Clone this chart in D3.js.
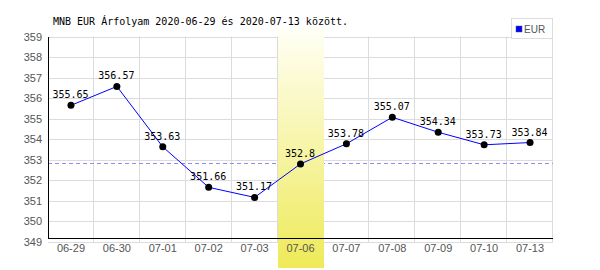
<!DOCTYPE html>
<html>
<head>
<meta charset="utf-8">
<script src="https://cdn.jsdelivr.net/npm/d3@7"></script>
<style>
  body { margin: 0; background: #fff; }
</style>
</head>
<body>
<div class="chart"></div>
<script>
var days = ["06-29", "06-30", "07-01", "07-02", "07-03", "07-06", "07-07", "07-08", "07-09", "07-10", "07-13"];
var rates = [355.65, 356.57, 353.63, 351.66, 351.17, 352.8, 353.78, 355.07, 354.34, 353.73, 353.84];
var yTicks = [349, 350, 351, 352, 353, 354, 355, 356, 357, 358, 359];
var refLine = 352.83;
var highlightDay = "07-06";

var svgWidth = 600;
var svgHeight = 270;

var svg = d3.select(".chart")
  .append("svg")
  .attr("width", svgWidth)
  .attr("height", svgHeight)
  .style("display", "block");

var x = d3.scaleBand()
  .domain(days)
  .range([48, 553])
  .padding(0);

var y = d3.scaleLinear()
  .domain([349, 359])
  .range([242, 36.5]);

var defs = svg.append("defs");
var grad = defs.append("linearGradient")
  .attr("id", "hl")
  .attr("x1", 0).attr("y1", 0).attr("x2", 0).attr("y2", 1);
grad.append("stop").attr("offset", "0%").attr("stop-color", "#fffff6");
grad.append("stop").attr("offset", "100%").attr("stop-color", "#eeea58");

// grid
svg.append("g")
  .selectAll("line")
  .data(yTicks)
  .enter()
  .append("line")
  .attr("x1", 48)
  .attr("x2", 553)
  .attr("y1", d => Math.round(y(d)) + 0.5)
  .attr("y2", d => Math.round(y(d)) + 0.5)
  .attr("stroke", "#dcdcdc");

svg.append("g")
  .selectAll("line")
  .data(days)
  .enter()
  .append("line")
  .attr("x1", d => Math.round(x(d) + x.bandwidth()) - 0.5)
  .attr("x2", d => Math.round(x(d) + x.bandwidth()) - 0.5)
  .attr("y1", 36.5)
  .attr("y2", 243)
  .attr("stroke", "#dcdcdc");

// reference dashed line
svg.append("line")
  .attr("x1", 48)
  .attr("x2", 553)
  .attr("y1", Math.round(y(refLine)) + 0.5)
  .attr("y2", Math.round(y(refLine)) + 0.5)
  .attr("stroke", "#8c8cff")
  .attr("stroke-dasharray", "4,3");

// highlighted day
svg.append("rect")
  .attr("x", Math.round(x(highlightDay)))
  .attr("y", 28)
  .attr("width", Math.round(x.bandwidth()))
  .attr("height", 240)
  .attr("fill", "url(#hl)");

// axes lines
svg.append("line")
  .attr("x1", 48.5).attr("x2", 48.5)
  .attr("y1", 37).attr("y2", 238.5)
  .attr("stroke", "#000");
svg.append("line")
  .attr("x1", 48).attr("x2", 553)
  .attr("y1", 238.5).attr("y2", 238.5)
  .attr("stroke", "#000");

// tick labels
svg.append("g")
  .selectAll("text")
  .data(yTicks)
  .enter()
  .append("text")
  .attr("x", 42)
  .attr("y", d => y(d) + 4)
  .attr("text-anchor", "end")
  .attr("font-family", "Liberation Sans, Arial, sans-serif")
  .attr("font-size", "11px")
  .attr("fill", "#555")
  .text(d => d);

svg.append("g")
  .selectAll("text")
  .data(days)
  .enter()
  .append("text")
  .attr("x", d => x(d) + x.bandwidth() / 2)
  .attr("y", 252)
  .attr("text-anchor", "middle")
  .attr("font-family", "Liberation Sans, Arial, sans-serif")
  .attr("font-size", "11px")
  .attr("fill", "#555")
  .text(d => d);

// line + points
var line = d3.line()
  .x((d, i) => x(days[i]) + x.bandwidth() / 2)
  .y(d => y(d));

svg.append("path")
  .datum(rates)
  .attr("d", line)
  .attr("fill", "none")
  .attr("stroke", "#0000ff")
  .attr("stroke-width", 1);

svg.append("g")
  .selectAll("circle")
  .data(rates)
  .enter()
  .append("circle")
  .attr("cx", (d, i) => x(days[i]) + x.bandwidth() / 2)
  .attr("cy", d => y(d))
  .attr("r", 3.5)
  .attr("fill", "#000");

svg.append("g")
  .selectAll("text")
  .data(rates)
  .enter()
  .append("text")
  .attr("x", (d, i) => x(days[i]) + x.bandwidth() / 2 - 0.5)
  .attr("y", d => y(d) - 7)
  .attr("text-anchor", "middle")
  .attr("font-family", "DejaVu Sans Mono, Liberation Mono, monospace")
  .attr("font-size", "10px")
  .attr("fill", "#000")
  .text(d => d);

// title
svg.append("text")
  .attr("x", 53)
  .attr("y", 25)
  .attr("font-family", "DejaVu Sans Mono, Liberation Mono, monospace")
  .attr("font-size", "10px")
  .attr("fill", "#000")
  .text("MNB EUR Árfolyam 2020-06-29 és 2020-07-13 között.");

// legend
var legend = svg.append("g");
legend.append("rect")
  .attr("x", 511.5).attr("y", 18.5)
  .attr("width", 41).attr("height", 20)
  .attr("fill", "#fff")
  .attr("stroke", "#dcdcdc");
legend.append("rect")
  .attr("x", 516).attr("y", 26)
  .attr("width", 6).attr("height", 6)
  .attr("fill", "#0000ff")
  .attr("stroke", "#555")
  .attr("stroke-width", 0.5);
legend.append("text")
  .attr("x", 524)
  .attr("y", 33)
  .attr("font-family", "Liberation Sans, Arial, sans-serif")
  .attr("font-size", "10px")
  .attr("fill", "#555")
  .text("EUR");
</script>
</body>
</html>
